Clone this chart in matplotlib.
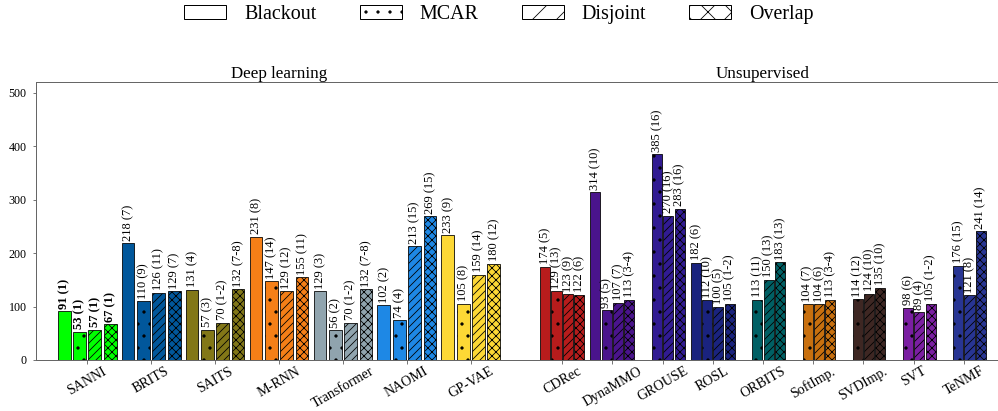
import matplotlib.pyplot as plt
from matplotlib.patches import Patch
import numpy as np

plt.rcParams['font.family'] = ['Liberation Serif', 'DejaVu Serif']
plt.rcParams['hatch.linewidth'] = 0.8

# deep learning methods
dl_methods = ['SANNI', 'BRITS', 'SAITS', 'M-RNN', 'Transformer', 'NAOMI', 'GP-VAE']
dl_colors = ['#00ff00', '#01579b', '#827717', '#f57f17', '#90a4ae', '#1e88e5', '#fdd835']
dl_blackout = [91, 218, 131, 231, 129, 102, 233]
dl_blackout_rank = ['1', '7', '4', '8', '3', '2', '9']
dl_mcar = [53, 110, 57, 147, 56, 74, 105]
dl_mcar_rank = ['1', '9', '3', '14', '2', '4', '8']
dl_disjoint = [57, 126, 70, 129, 70, 213, 159]
dl_disjoint_rank = ['1', '11', '1-2', '12', '1-2', '15', '14']
dl_overlap = [67, 129, 132, 155, 132, 269, 180]
dl_overlap_rank = ['1', '7', '7-8', '11', '7-8', '15', '12']

# unsupervised methods (None = scenario not run)
us_methods = ['CDRec', 'DynaMMO', 'GROUSE', 'ROSL', 'ORBITS', 'SoftImp.', 'SVDImp.', 'SVT', 'TeNMF']
us_colors = ['#b71c1c', '#4a148c', '#311b92', '#1a237e', '#006064', '#c8700f', '#3e2723', '#7b1fa2', '#283593']
us_blackout = [174, 314, None, 182, None, None, None, None, None]
us_blackout_rank = ['5', '10', None, '6', None, None, None, None, None]
us_mcar = [129, 93, 385, 112, 113, 104, 114, 98, 176]
us_mcar_rank = ['13', '5', '16', '10', '11', '7', '12', '6', '15']
us_disjoint = [123, 107, 270, 100, 150, 104, 124, 89, 121]
us_disjoint_rank = ['9', '7', '16', '5', '13', '6', '10', '4', '8']
us_overlap = [122, 113, 283, 105, 183, 113, 135, 105, 241]
us_overlap_rank = ['6', '3-4', '16', '1-2', '13', '3-4', '10', '1-2', '14']

scenarios = ['Blackout', 'MCAR', 'Disjoint', 'Overlap']
bar_hatches = ['', '.', '///', 'xxx']
legend_hatches = ['', '.', '/', 'x']
bold_methods = ['SANNI']


def draw(ax, names, colors, values, ranks, pitch, width):
    x = np.arange(len(names))
    for k in range(4):
        for i in range(len(names)):
            v = values[k][i]
            if v is None:
                continue
            xi = x[i] + (k - 1.5) * pitch
            ax.bar(xi, v, width, color=colors[i], edgecolor='black',
                   linewidth=0.8, hatch=bar_hatches[k])
            ax.annotate(f'{v} ({ranks[k][i]})', (xi, v), xytext=(0, 2.5),
                        textcoords='offset points', rotation=90,
                        ha='center', va='bottom', fontsize=12.5,
                        fontweight='bold' if names[i] in bold_methods else 'normal')
    ax.set_xticks(x)
    ax.set_xticklabels(names, rotation=30, ha='center', fontsize=14)
    ax.set_xlim(-0.8, len(names) - 0.2)
    ax.set_ylim(0, 520)
    ax.tick_params(axis='x', length=3.5, pad=1, color='#555555')


fig = plt.figure(figsize=(998 / 72, 411 / 72), dpi=72)
ax1 = fig.add_axes([36 / 998, 51 / 411, 486 / 998, 278 / 411])
ax2 = fig.add_axes([522 / 998, 51 / 411, 482 / 998, 278 / 411])

draw(ax1, dl_methods, dl_colors,
     [dl_blackout, dl_mcar, dl_disjoint, dl_overlap],
     [dl_blackout_rank, dl_mcar_rank, dl_disjoint_rank, dl_overlap_rank],
     0.24, 0.2)
draw(ax2, us_methods, us_colors,
     [us_blackout, us_mcar, us_disjoint, us_overlap],
     [us_blackout_rank, us_mcar_rank, us_disjoint_rank, us_overlap_rank],
     0.225, 0.2)

ax1.set_yticks(range(0, 501, 100))
ax1.tick_params(axis='y', length=3.5, pad=6, labelsize=12, color='#555555')
ax2.set_yticks([])

for ax in (ax1, ax2):
    for s in ax.spines.values():
        s.set_color('#666666')
        s.set_linewidth(1)
    ax.spines['right'].set_visible(False)
ax2.spines['left'].set_visible(False)

ax1.set_title('Deep learning', fontsize=17, pad=1)
ax2.set_title('Unsupervised', fontsize=17, pad=1)

handles = [Patch(facecolor='white', edgecolor='black', hatch=h, label=l)
           for h, l in zip(legend_hatches, scenarios)]
fig.legend(handles=handles, loc='center', bbox_to_anchor=(0.5, 1 - 14.5 / 411),
           ncol=4, frameon=False, fontsize=20, handlelength=2.1,
           handleheight=0.65, columnspacing=2.15, handletextpad=0.9)

fig.savefig('out.png', dpi=72)
